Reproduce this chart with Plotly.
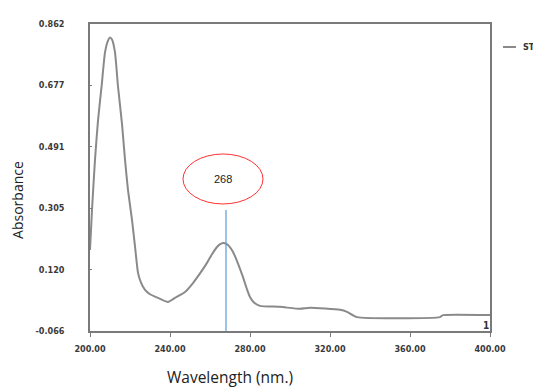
import plotly.graph_objects as go

wavelength = [200, 201, 202.5, 204, 205.8, 207.5, 209, 210, 211, 212.5, 214, 216, 217.5, 219,
              221, 222.5, 224, 225.5, 227.5, 230, 234, 239, 242.5, 247.5, 251.5, 255, 258.5,
              261, 263.5, 265.5, 267, 269, 271.5, 274, 276.5, 278.5, 280, 282, 285, 295, 305,
              310, 325, 328.5, 333.5, 375, 376.5, 400]
absorbance = [0.179, 0.300, 0.452, 0.570, 0.674, 0.776, 0.812, 0.821, 0.815, 0.776, 0.673,
              0.560, 0.452, 0.360, 0.270, 0.190, 0.110, 0.080, 0.058, 0.045, 0.034, 0.022,
              0.034, 0.052, 0.079, 0.108, 0.140, 0.166, 0.188, 0.198, 0.200, 0.194, 0.173,
              0.138, 0.097, 0.060, 0.037, 0.020, 0.010, 0.007, 0.001, 0.004, -0.002, -0.008,
              -0.024, -0.024, -0.018, -0.018]
y_ticks = [-0.066, 0.120, 0.305, 0.491, 0.677, 0.862]
y_tick_labels = ["-0.066", "0.120", "0.305", "0.491", "0.677", "0.862"]
x_ticks = [200, 240, 280, 320, 360, 400]
x_tick_labels = ["200.00", "240.00", "280.00", "320.00", "360.00", "400.00"]
peak_label = "268"
peak_x = 268
series_name = "ST"

tickfont = dict(family="DejaVu Sans Condensed, Liberation Sans Narrow, Arial", size=9,
                color="#3a3a3a", weight="bold")
curve_color = "#8a8a8a"

fig = go.Figure()
fig.add_trace(go.Scatter(x=wavelength, y=absorbance, mode="lines", name=series_name,
                         showlegend=False,
                         line=dict(color=curve_color, width=2, shape="spline", smoothing=0.5)))

# vertical marker line at peak
fig.add_shape(type="line", xref="x", yref="y", x0=peak_x, x1=peak_x, y0=-0.066, y1=0.30,
              line=dict(color="#5b9bd5", width=1.2))
# ellipse with label
fig.add_shape(type="circle", xref="x", yref="y", x0=peak_x - 21.5, x1=peak_x + 18.5,
              y0=0.318, y1=0.469, line=dict(color="#ff3030", width=1))
fig.add_annotation(x=peak_x - 1.5, y=0.393, xref="x", yref="y", text=peak_label, showarrow=False,
                   font=dict(family="Liberation Sans, Arial", size=11, color="#222"))

fig.add_annotation(x=397.8, y=-0.050, xref="x", yref="y", text="1", showarrow=False,
                   font=dict(family="DejaVu Sans Condensed, Arial", size=10, color="#333", weight="bold"))

# legend (drawn manually to match the short sample line)
fig.add_shape(type="line", xref="paper", yref="paper", x0=1.0325, x1=1.065, y0=0.925, y1=0.925,
              line=dict(color=curve_color, width=2))
fig.add_annotation(x=1.078, y=0.925, xref="paper", yref="paper", text=series_name, showarrow=False,
                   xanchor="left", yanchor="middle",
                   font=dict(family="DejaVu Sans Condensed, Arial", size=9, color="#333", weight="bold"))

fig.add_annotation(x=-0.18, y=0.427, xref="paper", yref="paper", text="Absorbance", textangle=-90,
                   showarrow=False, xanchor="center", yanchor="middle",
                   font=dict(family="Open Sans, Liberation Sans", size=14, color="#222"))
fig.add_annotation(x=0.35, y=-0.150, xref="paper", yref="paper", text="Wavelength (nm.)",
                   showarrow=False, xanchor="center", yanchor="middle",
                   font=dict(family="Open Sans, Liberation Sans", size=15.5, color="#222"))

fig.update_xaxes(range=[200, 400], tickvals=x_ticks, ticktext=x_tick_labels, tickfont=tickfont,
                 showgrid=False, zeroline=False, showline=True, linecolor="#7a7a7a", linewidth=1.5,
                 mirror=True, ticks="outside", ticklen=4, tickcolor="#7a7a7a",
                 ticklabelstandoff=4)
fig.update_yaxes(range=[-0.066, 0.862], tickvals=y_ticks, ticktext=y_tick_labels, tickfont=tickfont,
                 showgrid=False, zeroline=False, showline=True, linecolor="#7a7a7a", linewidth=1.5,
                 mirror=True, ticks="inside", ticklen=2, tickcolor="#7a7a7a",
                 ticklabelstandoff=22)

fig.update_layout(width=533, height=380,
                  margin=dict(l=82, r=51, t=16, b=57, autoexpand=False),
                  plot_bgcolor="white", paper_bgcolor="white", showlegend=False)

fig.write_html("out.html")
